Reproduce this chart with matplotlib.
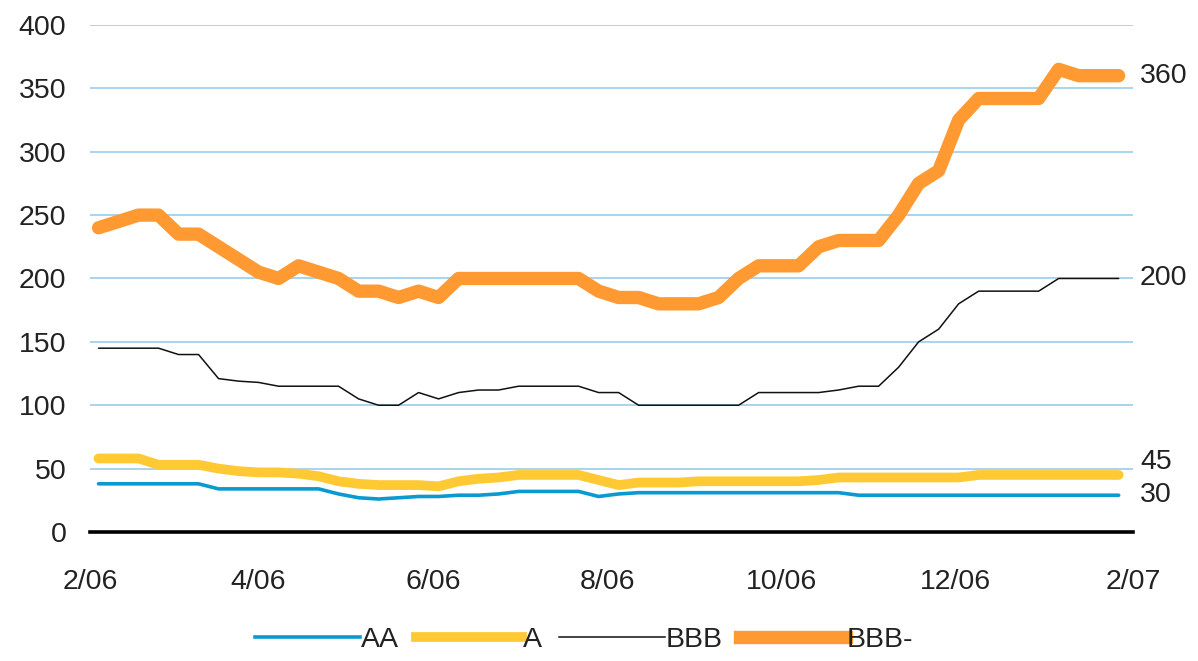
import pandas as pd
import matplotlib
matplotlib.use("Agg")
from matplotlib import pyplot as plt

plt.rcParams['font.family'] = ['Liberation Sans', 'DejaVu Sans']

# weekly observations, Feb 2006 - Jan 2007 (bp)
dates = pd.date_range('2006-02-04', periods=52, freq='7D')

aa = [38, 38, 38, 38, 38, 38, 34, 34, 34, 34, 34, 34, 30, 27, 26, 27, 28, 28,
      29, 29, 30, 32, 32, 32, 32, 28, 30, 31, 31, 31, 31, 31, 31, 31, 31, 31,
      31, 31, 29, 29, 29, 29, 29, 29, 29, 29, 29, 29, 29, 29, 29, 29]
a = [58, 58, 58, 53, 53, 53, 50, 48, 47, 47, 46, 44, 40, 38, 37, 37, 37, 36,
     40, 42, 43, 45, 45, 45, 45, 41, 37, 39, 39, 39, 40, 40, 40, 40, 40, 40,
     41, 43, 43, 43, 43, 43, 43, 43, 45, 45, 45, 45, 45, 45, 45, 45]
bbb = [145, 145, 145, 145, 140, 140, 121, 119, 118, 115, 115, 115, 115, 105,
       100, 100, 110, 105, 110, 112, 112, 115, 115, 115, 115, 110, 110, 100,
       100, 100, 100, 100, 100, 110, 110, 110, 110, 112, 115, 115, 130, 150,
       160, 180, 190, 190, 190, 190, 200, 200, 200, 200]
bbb_minus = [240, 245, 250, 250, 235, 235, 225, 215, 205, 200, 210, 205, 200,
             190, 190, 185, 190, 185, 200, 200, 200, 200, 200, 200, 200, 190,
             185, 185, 180, 180, 180, 185, 200, 210, 210, 210, 225, 230, 230,
             230, 250, 275, 285, 325, 342, 342, 342, 342, 365, 360, 360, 360]

end_labels = {'AA': '30', 'A': '45', 'BBB': '200', 'BBB-': '360'}
end_values = {'AA': 29, 'A': 45, 'BBB': 200, 'BBB-': 360}
end_shift = {'AA': 0, 'A': 9, 'BBB': 0, 'BBB-': 0}   # points, to keep 45/30 apart

tick_dates = pd.to_datetime(['2006-02-01', '2006-04-01', '2006-06-01', '2006-08-01',
                             '2006-10-01', '2006-12-01', '2007-02-01'])
tick_labels = ['2/06', '4/06', '6/06', '8/06', '10/06', '12/06', '2/07']
y_ticks = [0, 50, 100, 150, 200, 250, 300, 350, 400]

TXT = '#222222'
FS = 20.5

fig = plt.figure(figsize=(11.98, 6.61), dpi=100)
ax = fig.add_axes([0.0751, 0.1952, 0.8706, 0.767])

series = [
    ('AA', aa, '#0a9ad0', 2.6),
    ('A', a, '#ffc933', 7.0),
    ('BBB', bbb, '#111111', 1.1),
    ('BBB-', bbb_minus, '#ff9a33', 9.6),
]
for name, vals, col, lw in series:
    ax.plot(dates, vals, color=col, lw=lw, label=name,
            solid_capstyle='round', solid_joinstyle='round', zorder=3)

ax.set_xlim(tick_dates[0], tick_dates[-1])
ax.set_ylim(0, 400)
ax.set_yticks(y_ticks)
ax.set_xticks(tick_dates)
ax.set_xticklabels(tick_labels)
ax.yaxis.grid(True, color='#a9d4ee', lw=1.4, zorder=0)
ax.set_axisbelow(True)
ax.axhline(0, color='black', lw=2.6, zorder=4, clip_on=False)
for s in ax.spines.values():
    s.set_visible(False)
ax.tick_params(axis='both', length=0, labelsize=FS, labelcolor=TXT)
ax.tick_params(axis='x', pad=27)
ax.tick_params(axis='y', pad=17)

for name in end_labels:
    ax.annotate(end_labels[name], xy=(1.0, end_values[name]),
                xycoords=ax.get_yaxis_transform(),
                xytext=(5, end_shift[name]), textcoords='offset points',
                ha='left', va='center', fontsize=FS, color=TXT,
                annotation_clip=False)

leg = fig.legend(loc='center', bbox_to_anchor=(0.4875, 0.032), ncol=4,
                 frameon=False, fontsize=FS, labelcolor=TXT, handlelength=3.7,
                 handletextpad=0.05, columnspacing=0.6)
for h in leg.get_lines():
    h.set_solid_capstyle('projecting')

fig.savefig('out.png', dpi=100)
